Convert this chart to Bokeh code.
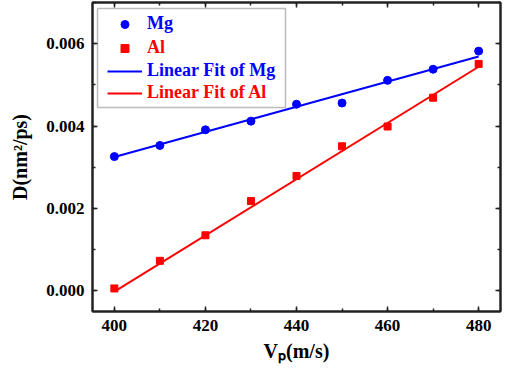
from bokeh.plotting import figure
from bokeh.models import (Range1d, LinearAxis, SingleIntervalTicker, NumeralTickFormatter,
                          CustomJSTickFormatter, Legend, LegendItem, BoxAnnotation)
from bokeh.embed import file_html
from bokeh.resources import INLINE

# ---- data ----
vp = [400, 410, 420, 430, 440, 450, 460, 470, 480]
mg = [0.00326, 0.00353, 0.00391, 0.00412, 0.00453, 0.00456, 0.00511, 0.00538, 0.00582]
al = [0.00006, 0.00073, 0.00135, 0.00218, 0.00279, 0.00351, 0.00399, 0.00469, 0.00551]
fit_x = [400, 480]
mg_fit = [0.00325, 0.00569]
al_fit = [-0.00002, 0.00544]
legend_labels = ["Mg", "Al", "Linear Fit of Mg", "Linear Fit of Al"]
x_label = "V\u209a(m/s)"
y_label = "D(nm\u00b2/ps)"

BLUE = "#0000ff"
RED = "#ff0000"
FONT = "Liberation Serif"
AX = "#222222"

p = figure(width=506, height=375, x_range=Range1d(395.2, 484.8), y_range=Range1d(-0.0005, 0.007),
           output_backend="svg", toolbar_location=None,
           min_border_left=92, min_border_right=6, min_border_top=2, min_border_bottom=64)
p.grid.visible = False
p.outline_line_color = AX
p.outline_line_width = 2
p.background_fill_color = "white"
p.border_fill_color = "white"


def style(ax, labels=True):
    ax.axis_line_color = AX
    ax.axis_line_width = 2
    ax.major_tick_in = 5
    ax.major_tick_out = 0
    ax.minor_tick_in = 3
    ax.minor_tick_out = 0
    ax.major_tick_line_color = AX
    ax.minor_tick_line_color = AX
    ax.major_tick_line_width = 1.5
    ax.minor_tick_line_width = 1.5
    ax.major_label_text_font = FONT
    ax.major_label_text_font_style = "bold"
    ax.major_label_text_color = "black"
    ax.major_label_text_font_size = "17px"
    ax.axis_label_text_font = FONT
    ax.axis_label_text_font_style = "bold"
    ax.axis_label_text_font_size = "20px"
    ax.axis_label_text_color = "black"
    if labels:
        ax.major_label_standoff = 8
    else:
        ax.formatter = CustomJSTickFormatter(code="return ''")
        ax.major_label_standoff = 0


p.xaxis.ticker = SingleIntervalTicker(interval=20, num_minor_ticks=2)
p.yaxis.ticker = SingleIntervalTicker(interval=0.002, num_minor_ticks=2)
p.yaxis.formatter = NumeralTickFormatter(format="0.000")
style(p.xaxis[0])
style(p.yaxis[0])
p.xaxis.axis_label = x_label
p.yaxis.axis_label = y_label
p.xaxis.axis_label_standoff = 6
p.yaxis.axis_label_standoff = 12

top = LinearAxis(ticker=SingleIntervalTicker(interval=20, num_minor_ticks=2))
right = LinearAxis(ticker=SingleIntervalTicker(interval=0.002, num_minor_ticks=2))
style(top, False)
style(right, False)
p.add_layout(top, "above")
p.add_layout(right, "right")

r_mgfit = p.line(fit_x, mg_fit, line_color=BLUE, line_width=2)
r_alfit = p.line(fit_x, al_fit, line_color=RED, line_width=2)
r_mg = p.scatter(vp, mg, marker="circle", size=8, fill_color=BLUE, line_color=BLUE)
r_al = p.scatter(vp, al, marker="square", size=7, fill_color=RED, line_color=RED)

# legend box (screen units relative to the frame's bottom-left)
p.add_layout(BoxAnnotation(left=5, right=193, bottom=204, top=303,
                           left_units="screen", right_units="screen",
                           top_units="screen", bottom_units="screen",
                           fill_alpha=0, line_color=AX, line_width=1.5))
rows = [(legend_labels[0], r_mg, BLUE, 287), (legend_labels[1], r_al, RED, 263),
        (legend_labels[2], r_mgfit, BLUE, 240), (legend_labels[3], r_alfit, RED, 218)]
for lab, r, col, cy in rows:
    lg = Legend(items=[LegendItem(label=lab, renderers=[r])], location=(15, cy - 10),
                padding=0, margin=0, spacing=0, label_standoff=5, glyph_width=35,
                glyph_height=20, label_height=20, label_text_font=FONT,
                label_text_font_style="bold", label_text_font_size="18px",
                label_text_color=col, border_line_alpha=0, background_fill_alpha=0,
                label_text_baseline="middle")
    p.add_layout(lg)

open("out.html", "w").write(file_html(p, INLINE))
